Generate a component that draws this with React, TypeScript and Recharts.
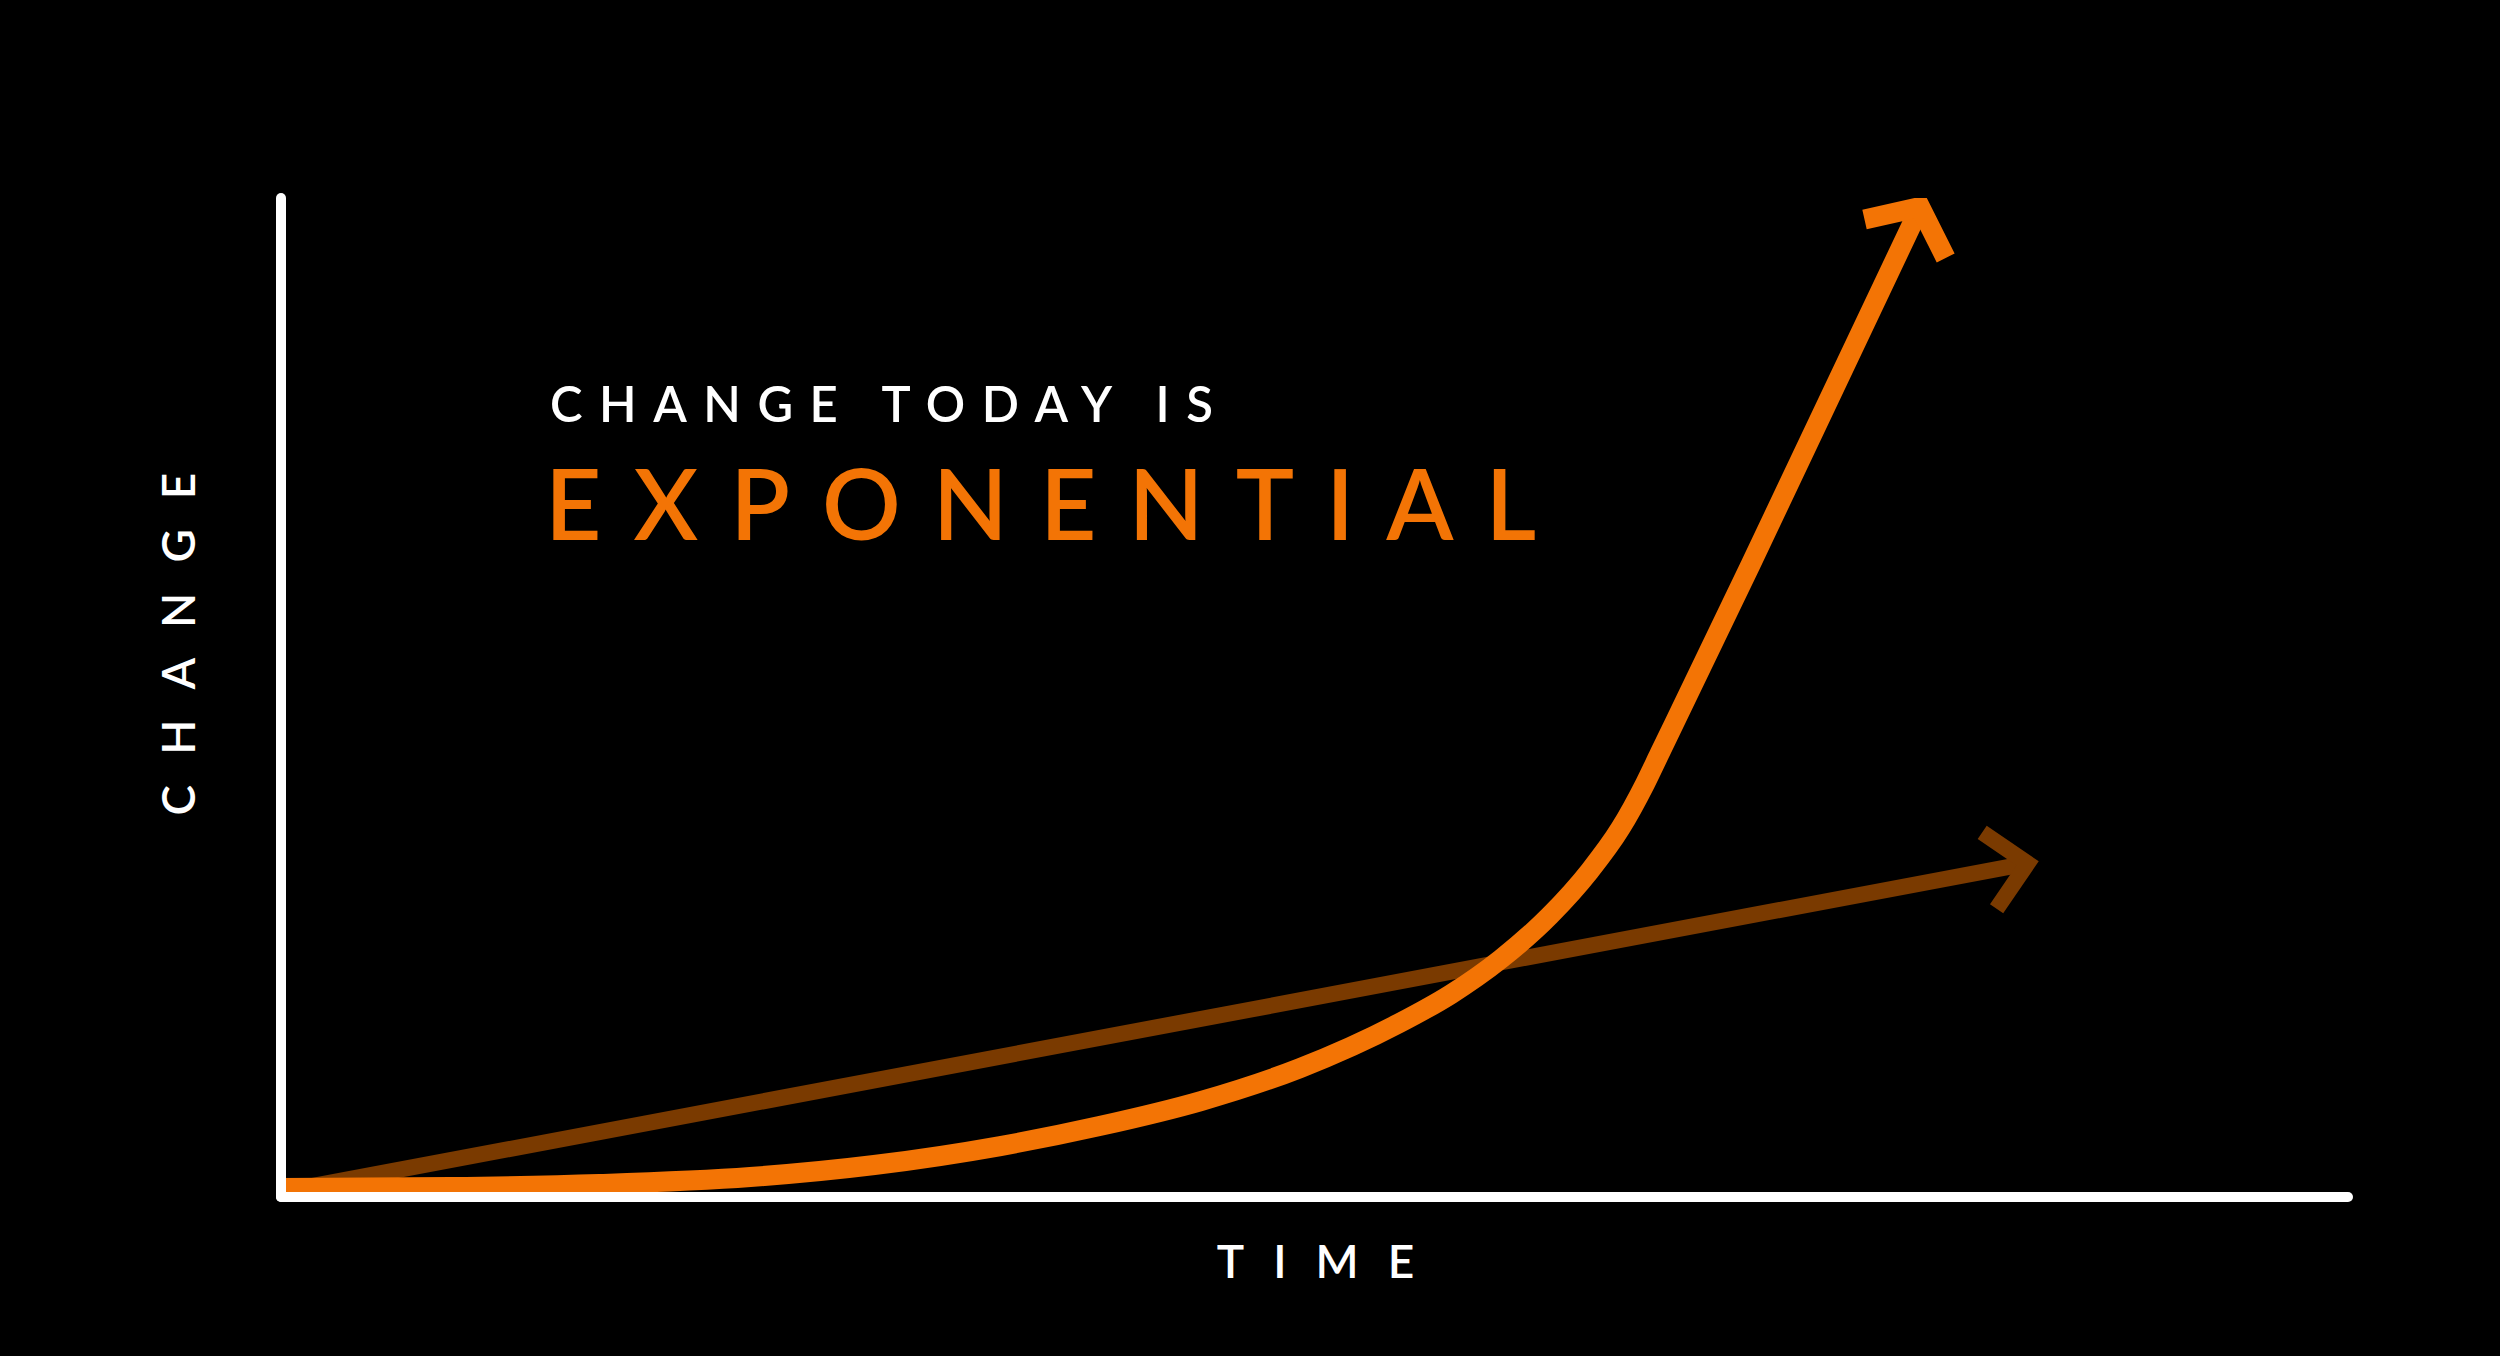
import { LineChart, Line, XAxis, YAxis, ReferenceLine } from 'recharts';

// time (0-100) and change (0-100)
const expTime = [0, 8.2, 15.4, 22.7, 28.7, 34.8, 39.6, 44.5, 49.3, 54.1, 56.6, 59.0, 61.4, 63.3, 64.8, 66.0, 66.7, 71.1, 79.3];
const expChange = [0.9, 1.0, 1.3, 2.0, 3.2, 5.1, 7.1, 9.6, 12.9, 17.4, 20.3, 23.8, 28.2, 32.6, 36.9, 41.4, 44.4, 63.3, 99.1];
const linTime = [0, 84.5];
const linChange = [0.5, 33.4];

const heading = 'CHANGE TODAY IS';
const headline = 'EXPONENTIAL';
const xLabel = 'TIME';
const yLabel = 'CHANGE';

const ORANGE = '#F37405';
const BROWN = '#7A3A00';

const expData = expTime.map((t, i) => ({ t, v: expChange[i] }));
const linData = linTime.map((t, i) => ({ t, v: linChange[i] }));

// draws an arrow head on the last point, pointing the way the line goes
function arrowDot(total: number, halfAngle: number, len: number, color: string, width: number) {
  let prev = { x: 0, y: 0 };
  return (props: any) => {
    const { cx, cy, index } = props;
    if (index < total - 1) {
      prev = { x: cx, y: cy };
      return <g key={`d-${index}`} />;
    }
    const dx = cx - prev.x;
    const dy = cy - prev.y;
    const l = Math.hypot(dx, dy) || 1;
    const bx = -dx / l;
    const by = -dy / l;
    const a = (halfAngle * Math.PI) / 180;
    const rot = (s: number) => ({
      x: cx + len * (bx * Math.cos(s * a) - by * Math.sin(s * a)),
      y: cy + len * (bx * Math.sin(s * a) + by * Math.cos(s * a)),
    });
    const p1 = rot(1);
    const p2 = rot(-1);
    return (
      <path
        key={`d-${index}`}
        d={`M${p1.x},${p1.y}L${cx},${cy}L${p2.x},${p2.y}`}
        fill="none"
        stroke={color}
        strokeWidth={width}
        strokeLinejoin="miter"
        strokeMiterlimit={10}
      />
    );
  };
}

const font = 'Lato, "Noto Sans", sans-serif';

export default function App() {
  return (
    <div style={{ position: 'fixed', left: 0, top: 0, width: 2500, height: 1356, background: '#000' }}>
      <LineChart width={2500} height={1356} margin={{ top: 198, right: 152, bottom: 159, left: 281 }}>
        <XAxis type="number" dataKey="t" domain={[0, 100]} allowDataOverflow hide />
        <YAxis type="number" domain={[0, 100]} allowDataOverflow hide />
        <Line
          data={linData}
          dataKey="v"
          type="linear"
          stroke={BROWN}
          strokeWidth={16}
          dot={arrowDot(linData.length, 45, 55, BROWN, 16)}
          activeDot={false}
          isAnimationActive={false}
        />
        <Line
          data={expData}
          dataKey="v"
          type="monotone"
          stroke={ORANGE}
          strokeWidth={20}
          dot={arrowDot(expData.length, 52, 57, ORANGE, 20)}
          activeDot={false}
          isAnimationActive={false}
        />
        <ReferenceLine x={0} stroke="#fff" strokeWidth={10} strokeLinecap="round" ifOverflow="visible" />
        <ReferenceLine y={0} stroke="#fff" strokeWidth={10} strokeLinecap="round" ifOverflow="visible" />
      </LineChart>
      <svg
        width={2500}
        height={1356}
        style={{ position: 'absolute', left: 0, top: 0, pointerEvents: 'none' }}
      >
        <text x={550} y={422} fill="#fff" fontFamily={font} fontWeight={600} fontSize={49} letterSpacing={16.5}>
          {heading}
        </text>
        <text x={545} y={540} fill={ORANGE} fontFamily={font} fontWeight={600} fontSize={98} letterSpacing={32}>
          {headline}
        </text>
        <text x={1330} y={1278} fill="#fff" fontFamily={font} fontWeight={600} fontSize={46} letterSpacing={29} textAnchor="middle">
          {xLabel}
        </text>
        <text
          x={0}
          y={0}
          transform="translate(195,629) rotate(-90)"
          fill="#fff"
          fontFamily={font}
          fontWeight={600}
          fontSize={46}
          letterSpacing={30}
          textAnchor="middle"
        >
          {yLabel}
        </text>
      </svg>
    </div>
  );
}
